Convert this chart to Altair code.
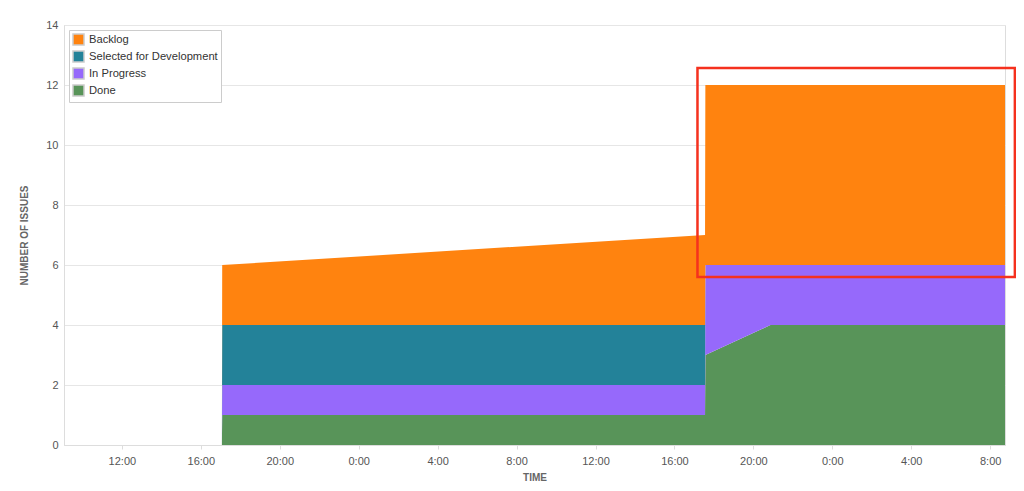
import altair as alt
import pandas as pd

# ---- data ----
times = [
    "2024-01-01T09:04:00", "2024-01-01T17:04:00", "2024-01-01T17:05:00",
    "2024-01-02T17:33:00", "2024-01-02T17:34:00", "2024-01-02T20:52:00",
    "2024-01-03T08:45:00",
]
done        = [0, 0, 1, 1, 3, 4, 4]
in_progress = [0, 0, 1, 1, 3, 2, 2]
selected    = [0, 0, 2, 2, 0, 0, 0]
backlog     = [0, 0, 2, 3, 6, 6, 6]

statuses = ["Backlog", "Selected for Development", "In Progress", "Done"]
colors = ["#FF830F", "#238299", "#9669FB", "#589459"]
stack_rank = {"Done": 0, "In Progress": 1, "Selected for Development": 2, "Backlog": 3}

# tick label positions (every 4 hours)
tick_times = ["2024-01-01T12:00:00", "2024-01-01T16:00:00", "2024-01-01T20:00:00",
              "2024-01-02T00:00:00", "2024-01-02T04:00:00", "2024-01-02T08:00:00",
              "2024-01-02T12:00:00", "2024-01-02T16:00:00", "2024-01-02T20:00:00",
              "2024-01-03T00:00:00", "2024-01-03T04:00:00", "2024-01-03T08:00:00"]

# highlight box annotation (red rectangle)
box_x = ["2024-01-02T17:10:00"]
box_x2 = ["2024-01-03T09:15:00"]
box_y = [5.6]
box_y2 = [12.57]

x_domain = ["2024-01-01T09:04:00", "2024-01-03T08:45:00"]


def to_dt(s):
    t = pd.Timestamp(s)
    return alt.DateTime(year=t.year, month=t.month, date=t.day,
                        hours=t.hour, minutes=t.minute)


series = {"Done": done, "In Progress": in_progress,
          "Selected for Development": selected, "Backlog": backlog}
rows = []
for name, vals in series.items():
    for t, v in zip(times, vals):
        rows.append({"time": t, "status": name, "count": v, "rank": stack_rank[name]})
df = pd.DataFrame(rows)

box_df = pd.DataFrame({"x": box_x, "x2": box_x2, "y": box_y, "y2": box_y2})

x_scale = alt.Scale(domain=[to_dt(s) for s in x_domain])

area = alt.Chart(df).mark_area(interpolate="linear").encode(
    x=alt.X("time:T", scale=x_scale,
            axis=alt.Axis(title="TIME", format="%-H:%M",
                          values=[to_dt(s) for s in tick_times],
                          grid=False, labelAngle=0)),
    y=alt.Y("count:Q", stack="zero",
            scale=alt.Scale(domain=[0, 14]),
            axis=alt.Axis(title="NUMBER OF ISSUES", values=[0, 2, 4, 6, 8, 10, 12, 14],
                          ticks=False, grid=True)),
    color=alt.Color("status:N",
                    scale=alt.Scale(domain=statuses, range=colors),
                    legend=alt.Legend(title=None, orient="top-left", offset=5,
                                      symbolType="square", symbolSize=121,
                                      symbolStrokeColor="#cccccc", symbolStrokeWidth=1.5,
                                      symbolOpacity=1,
                                      labelFontSize=11.2, labelColor="#333333",
                                      rowPadding=0, padding=3,
                                      strokeColor="#cccccc", fillColor="white")),
    order=alt.Order("rank:Q", sort="ascending"),
)

box = alt.Chart(box_df).mark_rect(filled=False, stroke="#F5311E", strokeWidth=2.5,
                                  clip=False).encode(
    x="x:T", x2="x2:T", y="y:Q", y2="y2:Q"
)

chart = alt.layer(area, box).properties(
    width=941, height=420,
    autosize=alt.AutoSizeParams(type="none"),
    padding={"left": 56, "top": 17, "right": 11, "bottom": 38},
).configure_view(
    stroke="#dddddd"
).configure_axis(
    labelFont="Liberation Sans", titleFont="Liberation Sans",
    labelFontSize=11, labelColor="#555555",
    titleFontSize=10, titleFontWeight="bold", titleColor="#666666",
    domainColor="#dddddd", tickColor="#dddddd", gridColor="#e6e6e6",
).configure_axisX(
    labelPadding=6, titlePadding=6, tickSize=4,
).configure_axisY(
    labelPadding=6, titlePadding=16,
).configure_legend(
    labelFont="Liberation Sans",
)

chart.save("out.html", embed_options={"renderer": "svg", "actions": False})
